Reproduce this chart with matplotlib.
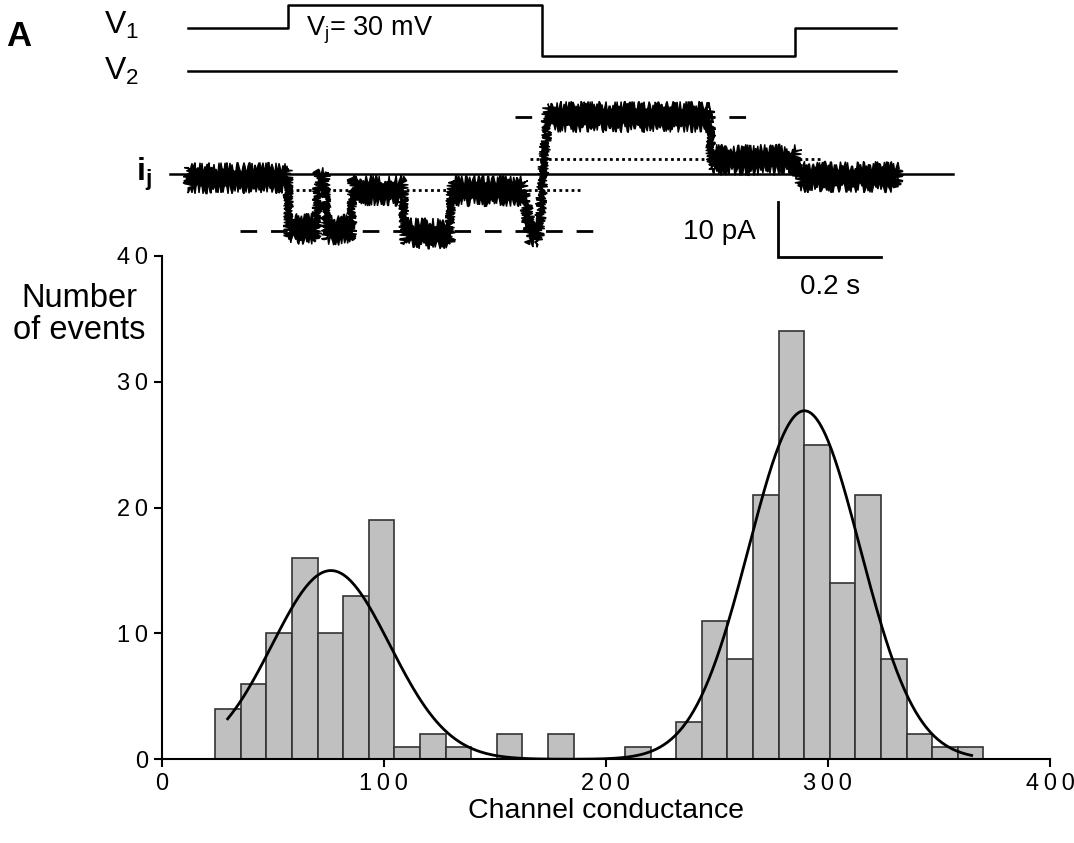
import numpy as np
import matplotlib
matplotlib.use("Agg")
import matplotlib.pyplot as plt

plt.rcParams['font.family'] = ['Liberation Sans', 'DejaVu Sans']
plt.rcParams['mathtext.fontset'] = 'custom'
plt.rcParams['mathtext.rm'] = 'Liberation Sans'
plt.rcParams['mathtext.it'] = 'Liberation Sans:italic'
plt.rcParams['mathtext.bf'] = 'Liberation Sans:bold'

# ---------------- histogram data ----------------
bin_left = 24.1          # pS, left edge of first bin
bin_width = 11.53        # pS
counts = [4, 6, 10, 16, 10, 13, 19, 1, 2, 1, 0, 2, 0, 2, 0, 0, 1, 0,
          3, 11, 8, 21, 34, 25, 14, 21, 8, 2, 1, 1]
# two-Gaussian fit parameters
fit_amp = [15.0, 27.7]
fit_mu = [76.2, 289.4]
fit_sigma = [26.5, 25.1]
fit_range = [29.7, 364.7]

x_ticks = [0, 100, 200, 300, 400]
y_ticks = [0, 10, 20, 30, 40]

# ---------------- single-channel trace (mean levels) ----------------
seg_start = [0.000, 0.196, 0.253, 0.270, 0.320, 0.421, 0.512, 0.666, 0.700, 1.019, 1.188]
seg_end   = [0.195, 0.251, 0.268, 0.319, 0.420, 0.511, 0.654, 0.684, 1.018, 1.187, 1.384]
seg_level = [-0.7, -9.8, -1.5, -10.0, -2.9, -10.6, -3.0, -10.3, 10.3, 2.6, -0.5]  # pA
open_level = 10.2      # pA (dashed)
resid_level = 2.8      # pA (dotted)

# voltage protocol
v1_t = [0.0, 0.195, 0.690, 1.183, 1.380]
v1_level = [0, 1, -1.2, 0]
v2_t = [0.0, 1.380]

# ---------------- figure ----------------
W, H = 1074, 843
fig = plt.figure(figsize=(W / 100, H / 100), dpi=100)

def fx(px):
    return px / W

def fy(py):
    return 1 - py / H

ax = fig.add_axes([fx(161.7), fy(759.3), fx(1050) - fx(161.7), fy(256) - fy(759.3)])
edges = bin_left + bin_width * np.arange(len(counts))
ax.bar(edges, counts, width=bin_width, align='edge', color='#c0c0c0',
       edgecolor='#333333', linewidth=1.2, zorder=2)
xs = np.linspace(fit_range[0], fit_range[1], 400)
ys = sum(a * np.exp(-(xs - m) ** 2 / (2 * s ** 2)) for a, m, s in zip(fit_amp, fit_mu, fit_sigma))
ax.plot(xs, ys, color='black', lw=2.0, zorder=3)
ax.set_xlim(0, 400)
ax.set_ylim(0, 40)
ax.spines['top'].set_visible(False)
ax.spines['right'].set_visible(False)
for s in ['left', 'bottom']:
    ax.spines[s].set_linewidth(1.5)
ax.set_xticks(x_ticks)
ax.set_xticklabels(['\u2009'.join(str(v)) for v in x_ticks])
ax.set_yticks(y_ticks)
ax.set_yticklabels(['\u2009'.join(str(v)) for v in y_ticks])
ax.tick_params(axis='both', direction='out', length=6, width=1.5, labelsize=17, pad=4)
ax.set_xlabel('Channel conductance', fontsize=20.5, labelpad=2)
fig.text(fx(79), fy(283), 'Number\nof events', ha='center', va='top',
         multialignment='center', fontsize=23.5, linespacing=1.05)

# ---------------- trace axes ----------------
px_per_s = 513.0
px_per_pA = 5.57
t0_px = 188.0
base_py = 174.3
top_h = 300.0
axt = fig.add_axes([0, fy(top_h), 1, top_h / H])
axt.set_xlim(-t0_px / px_per_s, (W - t0_px) / px_per_s)
axt.set_ylim((base_py - top_h) / px_per_pA, base_py / px_per_pA)
axt.axis('off')
axt.patch.set_alpha(0)

tv, iv = [], []
for a, b, l in zip(seg_start, seg_end, seg_level):
    tv += [a, b]
    iv += [l, l]
tv = np.array(tv)
iv = np.array(iv)
hw = 1.9
poly_t = np.concatenate([tv, tv[::-1]])
poly_i = np.concatenate([iv + hw, (iv - hw)[::-1]])
band = axt.fill(poly_t, poly_i, color='black', lw=1.0, zorder=3)[0]
band.set_sketch_params(scale=5, length=2, randomness=4)
ln, = axt.plot(tv, iv, color='black', lw=1.5, zorder=3)
ln.set_sketch_params(scale=3, length=2, randomness=3)

# reference lines
axt.plot([-0.035, 1.491], [0, 0], color='black', lw=1.8, zorder=2)
axt.plot([0.637, 1.092], [open_level, open_level], color='black', lw=2, ls=(0, (6, 5)), zorder=2)
axt.plot([0.101, 0.799], [-open_level, -open_level], color='black', lw=2, ls=(0, (6, 5)), zorder=2)
axt.plot([0.199, 0.764], [-resid_level, -resid_level], color='black', lw=2, ls=(0, (1, 1.2)), zorder=2)
axt.plot([0.667, 1.232], [resid_level, resid_level], color='black', lw=2, ls=(0, (1, 1.2)), zorder=2)

# scale bar
sb_t = 1.1507
sb_i = -14.9
axt.plot([sb_t, sb_t, sb_t + 0.2], [sb_i + 10, sb_i, sb_i], color='black', lw=2, solid_joinstyle='miter')
axt.text(sb_t - 0.045, sb_i + 4.5, '10 pA', ha='right', va='center', fontsize=20)
axt.text(sb_t + 0.1, sb_i - 5.3, '0.2 s', ha='center', va='center', fontsize=20)

# labels
axt.text(-0.07, 0, r'$\mathbf{i_j}$', ha='right', va='center', fontsize=23)

# protocol axes
axp = fig.add_axes([0, fy(top_h), 1, top_h / H])
axp.set_xlim(-t0_px / px_per_s, (W - t0_px) / px_per_s)
v1_hold_py = 28.3
step_px = 23.3
axp.set_ylim((v1_hold_py - top_h) / step_px, v1_hold_py / step_px)
axp.axis('off')
axp.patch.set_alpha(0)
axp.step(v1_t, v1_level + [v1_level[-1]], where='post', color='black', lw=1.8)
v2_off = -(70.7 - v1_hold_py) / step_px
axp.plot(v2_t, [v2_off, v2_off], color='black', lw=1.8)
axp.text(0.23, -0.1, r'V$_\mathrm{j}$= 30 mV', ha='left', va='center', fontsize=19.5)

fig.text(fx(104), fy(34), r'V$_\mathrm{1}$', ha='left', va='baseline', fontsize=23)
fig.text(fx(104), fy(80), r'V$_\mathrm{2}$', ha='left', va='baseline', fontsize=23)
fig.text(fx(6), fy(46), 'A', ha='left', va='baseline', fontsize=25, fontweight='bold')

fig.savefig('out.png', dpi=100)
